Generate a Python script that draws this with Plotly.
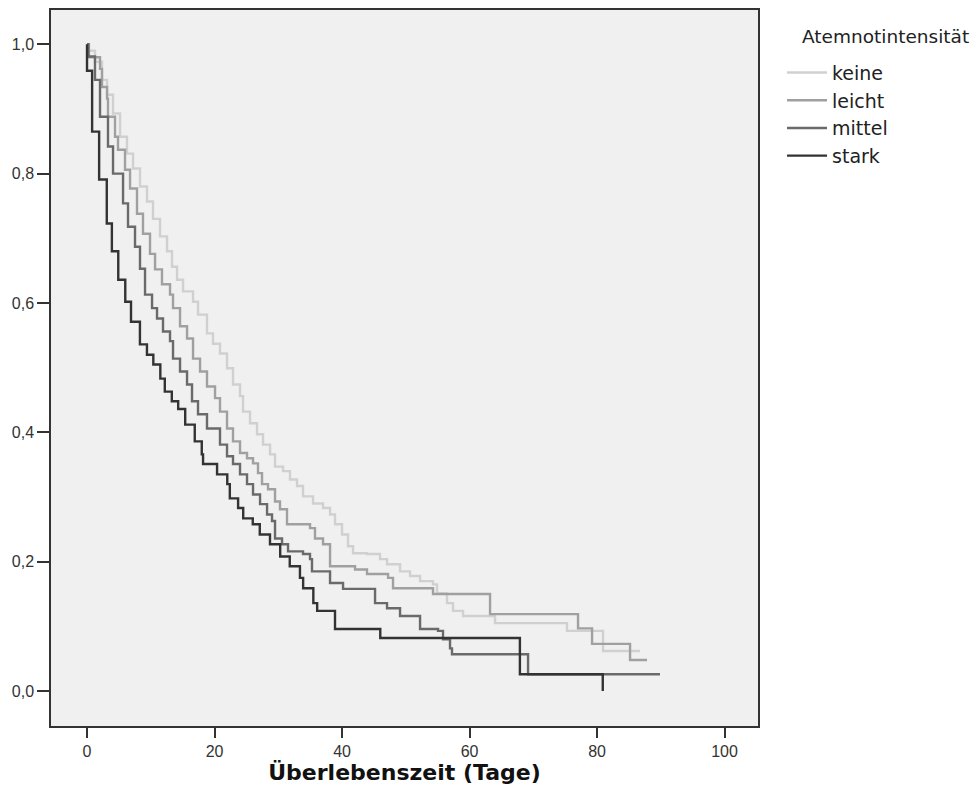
import plotly.graph_objects as go

# ---- data (Kaplan-Meier step curves) ----
groups = ["keine", "leicht", "mittel", "stark"]

keine_t = [0, 0.2, 1.25, 2.35, 3.14, 4.08, 5.18, 6.27, 7.22, 8.31, 9.41, 10.35, 11.45, 12.55, 13.33,
           14.12, 15.06, 16.63, 17.41, 18.82, 19.76, 20.86, 21.96, 22.90, 24.00, 24.47, 25.57, 26.67,
           27.61, 28.71, 29.49, 30.75, 31.84, 32.94, 33.88, 35.45, 37.02, 38.12, 38.90, 40.00, 40.94,
           41.73, 43.92, 45.96, 47.06, 49.10, 50.67, 52.24, 54.27, 54.90, 56.47, 57.41, 58.98, 64.00,
           75.29, 80.94]
keine_s = [1.0, 0.990, 0.973, 0.945, 0.922, 0.893, 0.857, 0.831, 0.808, 0.780, 0.757, 0.730, 0.703,
           0.680, 0.656, 0.636, 0.618, 0.602, 0.582, 0.553, 0.537, 0.522, 0.499, 0.474, 0.456, 0.432,
           0.414, 0.397, 0.381, 0.366, 0.347, 0.340, 0.327, 0.317, 0.301, 0.290, 0.283, 0.273, 0.258,
           0.242, 0.224, 0.213, 0.212, 0.204, 0.196, 0.185, 0.178, 0.170, 0.165, 0.151, 0.136, 0.124,
           0.116, 0.105, 0.093, 0.062]
keine_end = 86.75

leicht_t = [0, 0.3, 2.04, 2.35, 3.14, 3.29, 4.39, 4.86, 5.96, 6.75, 7.84, 8.78, 9.88, 10.67, 11.76,
            13.02, 13.49, 14.59, 15.69, 16.63, 17.73, 18.82, 20.08, 20.86, 21.96, 22.90, 24.00, 25.10,
            26.04, 26.82, 27.45, 28.39, 29.49, 30.27, 31.37, 34.98, 35.76, 37.02, 38.12, 42.04, 43.92,
            47.22, 48.00, 54.27, 63.22, 77.02, 79.22, 85.18]
leicht_s = [1.0, 0.980, 0.962, 0.934, 0.916, 0.888, 0.857, 0.837, 0.806, 0.777, 0.738, 0.707, 0.676,
            0.652, 0.629, 0.613, 0.592, 0.564, 0.545, 0.514, 0.494, 0.471, 0.453, 0.432, 0.406, 0.386,
            0.368, 0.360, 0.352, 0.337, 0.320, 0.312, 0.293, 0.281, 0.258, 0.252, 0.236, 0.227, 0.193,
            0.188, 0.181, 0.175, 0.159, 0.150, 0.119, 0.097, 0.073, 0.048]
leicht_end = 87.84

mittel_t = [0, 0.2, 1.25, 2.04, 3.29, 4.08, 5.65, 6.43, 7.53, 8.31, 9.10, 10.20, 10.98, 11.92, 13.02,
            13.49, 14.59, 15.69, 16.47, 17.41, 18.82, 20.86, 21.96, 22.90, 24.00, 25.10, 26.04, 27.14,
            28.24, 29.02, 29.49, 30.59, 31.53, 33.88, 34.98, 35.29, 38.12, 40.16, 45.18, 47.06, 49.10,
            52.24, 55.06, 55.84, 56.94, 57.25, 69.18]
mittel_s = [1.0, 0.981, 0.945, 0.888, 0.842, 0.800, 0.754, 0.718, 0.687, 0.653, 0.613, 0.592, 0.576,
            0.556, 0.541, 0.514, 0.494, 0.474, 0.448, 0.428, 0.406, 0.381, 0.363, 0.351, 0.335, 0.320,
            0.304, 0.289, 0.273, 0.263, 0.236, 0.227, 0.216, 0.212, 0.204, 0.185, 0.167, 0.158, 0.136,
            0.128, 0.116, 0.096, 0.093, 0.080, 0.066, 0.057, 0.026]
mittel_end = 89.88

stark_t = [0, 0.0, 0.8, 1.9, 3.1, 3.9, 4.9, 6.0, 6.9, 8.3, 9.4, 10.4, 11.5, 12.2, 13.3, 14.3, 15.4,
           16.9, 18.0, 18.2, 20.4, 22.0, 22.4, 23.7, 24.5, 26.0, 27.1, 28.7, 30.3, 31.8, 33.4, 33.9,
           35.5, 36.1, 38.9, 46.0, 67.9, 80.9]
stark_s = [1.0, 0.959, 0.865, 0.791, 0.723, 0.680, 0.636, 0.602, 0.571, 0.536, 0.520, 0.505, 0.483,
           0.463, 0.448, 0.436, 0.412, 0.386, 0.366, 0.351, 0.335, 0.320, 0.298, 0.283, 0.267, 0.258,
           0.242, 0.227, 0.208, 0.193, 0.175, 0.159, 0.136, 0.124, 0.096, 0.082, 0.026, 0.0]
stark_end = 80.9

x_ticks = [0, 20, 40, 60, 80, 100]
y_ticks = [0.0, 0.2, 0.4, 0.6, 0.8, 1.0]

series = [
    ("keine", keine_t, keine_s, keine_end, "#d0d0d0"),
    ("leicht", leicht_t, leicht_s, leicht_end, "#a0a0a0"),
    ("mittel", mittel_t, mittel_s, mittel_end, "#6a6a6a"),
    ("stark", stark_t, stark_s, stark_end, "#333333"),
]

fig = go.Figure()
for name, t, s, end, col in series:
    xs = list(t) + [end]
    ys = list(s) + [s[-1]]
    fig.add_trace(go.Scatter(
        x=xs, y=ys, mode="lines", name=name,
        line=dict(shape="hv", color=col, width=2.4),
        hoverinfo="skip",
    ))

fig.update_layout(
    width=980, height=808,
    margin=dict(l=51, r=222, t=8, b=82),
    paper_bgcolor="white",
    plot_bgcolor="#f0f0f0",
    separators=",.",
    font=dict(family="DejaVu Sans", color="#222222"),
    showlegend=True,
    legend=dict(
        x=1.034, y=0.939, xanchor="left", yanchor="top",
        bgcolor="rgba(0,0,0,0)", borderwidth=0,
        font=dict(family="DejaVu Sans", size=19, color="#222222"),
        itemwidth=40,
    ),
    annotations=[dict(
        text="Atemnotintensität", xref="paper", yref="paper",
        x=1.059, y=0.963, xanchor="left", yanchor="middle", showarrow=False,
        font=dict(family="DejaVu Sans", size=18.5, color="#222222"),
    )],
)

fig.update_xaxes(
    range=[-5.65, 105.25], tickvals=x_ticks, ticktext=[str(v) for v in x_ticks],
    showgrid=False, zeroline=False,
    showline=True, linecolor="#333333", linewidth=1.5, mirror=True,
    ticks="outside", ticklen=10, tickwidth=1.5, tickcolor="#333333",
    tickfont=dict(family="Liberation Sans", size=16, color="#333333"),
    title=dict(text="<b>Überlebenszeit (Tage)</b>", standoff=4,
               font=dict(family="DejaVu Sans", size=22, color="#111111")),
)
fig.update_yaxes(
    range=[-0.054, 1.053], tickvals=y_ticks, tickformat=".1f",
    showgrid=False, zeroline=False,
    showline=True, linecolor="#333333", linewidth=1.5, mirror=True,
    ticks="outside", ticklen=12, tickwidth=1.5, tickcolor="#333333",
    tickfont=dict(family="Liberation Sans", size=16, color="#333333"),
)

fig.write_html("out.html")
